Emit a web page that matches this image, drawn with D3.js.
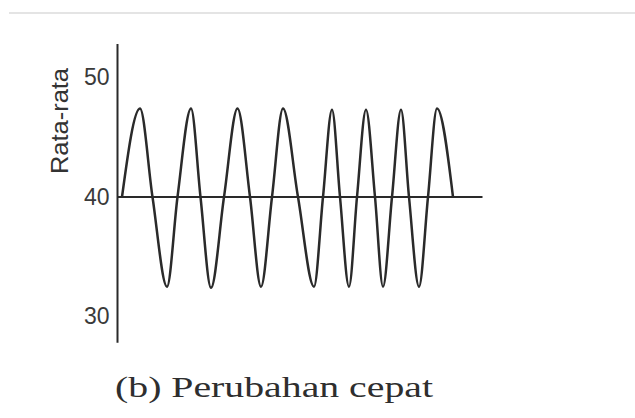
<!DOCTYPE html>
<html>
<head>
<meta charset="utf-8">
<script src="https://cdn.jsdelivr.net/npm/d3@7"></script>
<style>
  html, body { margin: 0; padding: 0; background: #ffffff; }
  svg { display: block; }
</style>
</head>
<body>
<svg id="chart" width="635" height="418"></svg>
<script>
// Moving-average series: a fast oscillation around the mean level of 40.
// Each entry is a zero crossing, a crest or a trough of the wave.
const waveTime  = [0.9, 4.5, 7.0, 9.9, 12.0, 14.7, 16.6, 18.7, 21.3, 24.0,
                   26.5, 28.7, 30.9, 33.1, 36.1, 39.3, 41.1, 42.9, 44.5, 46.3,
                   47.9, 49.7, 51.5, 53.1, 54.9, 56.7, 58.3, 60.3, 62.1, 63.9, 67.1];
const waveValue = [40, 47.4, 40, 32.5, 40, 47.4, 40, 32.4, 40, 47.4,
                   40, 32.5, 40, 47.4, 40, 32.5, 40, 47.3, 40, 32.5,
                   40, 47.3, 40, 32.5, 40, 47.3, 40, 32.5, 40, 47.4, 40];

const meanLevel  = 40;
const yTicks     = [30, 40, 50];
const yDomain    = [30, 50];
const yAxisSpan  = [27.8, 52.8];
const timeDomain = [0, 73];
const yLabel     = "Rata-rata";
const caption    = "(b) Perubahan cepat";

const svg = d3.select("#chart");

const x = d3.scaleLinear().domain(timeDomain).range([117.5, 482.5]);
const y = d3.scaleLinear().domain(yDomain).range([316.5, 77.5]);

const ink = "#2a2a2a";

// thin rule along the top of the page
svg.append("line")
  .attr("x1", 9).attr("x2", 635)
  .attr("y1", 13).attr("y2", 13)
  .attr("stroke", "#e4e4e4")
  .attr("stroke-width", 2);

// y axis with its numeric labels
const yAxis = d3.axisLeft(y)
  .tickValues(yTicks)
  .tickSize(0)
  .tickPadding(8)
  .tickFormat(d3.format("d"));

const gAxis = svg.append("g")
  .attr("transform", `translate(${x(timeDomain[0])},0)`)
  .call(yAxis);
gAxis.select(".domain").remove();
gAxis.selectAll("text")
  .attr("font-family", "'Liberation Sans', Arial, sans-serif")
  .attr("font-size", 23)
  .attr("fill", "#3a3a3a");

svg.append("line")
  .attr("x1", x(timeDomain[0])).attr("x2", x(timeDomain[0]))
  .attr("y1", y(yAxisSpan[1])).attr("y2", y(yAxisSpan[0]))
  .attr("stroke", ink)
  .attr("stroke-width", 2);

// mean level
svg.append("line")
  .attr("x1", x(timeDomain[0])).attr("x2", x(timeDomain[1]))
  .attr("y1", y(meanLevel)).attr("y2", y(meanLevel))
  .attr("stroke", ink)
  .attr("stroke-width", 2);

// oscillating series
const line = d3.line()
  .x((d, i) => x(waveTime[i]))
  .y(d => y(d))
  .curve(d3.curveMonotoneX);

svg.append("path")
  .datum(waveValue)
  .attr("d", line)
  .attr("fill", "none")
  .attr("stroke", ink)
  .attr("stroke-width", 2.5)
  .attr("stroke-linejoin", "round");

// axis title
svg.append("text")
  .attr("transform", `translate(68,121) rotate(-90)`)
  .attr("text-anchor", "middle")
  .attr("font-family", "'Liberation Sans', Arial, sans-serif")
  .attr("font-size", 23)
  .attr("fill", "#333")
  .attr("textLength", 106)
  .attr("lengthAdjust", "spacingAndGlyphs")
  .text(yLabel);

// caption under the plot
svg.append("text")
  .attr("x", 115).attr("y", 397)
  .attr("font-family", "'Liberation Serif', 'Times New Roman', serif")
  .attr("font-size", 29)
  .attr("fill", "#2e2e2e")
  .attr("textLength", 318)
  .attr("lengthAdjust", "spacingAndGlyphs")
  .text(caption);
</script>
</body>
</html>
